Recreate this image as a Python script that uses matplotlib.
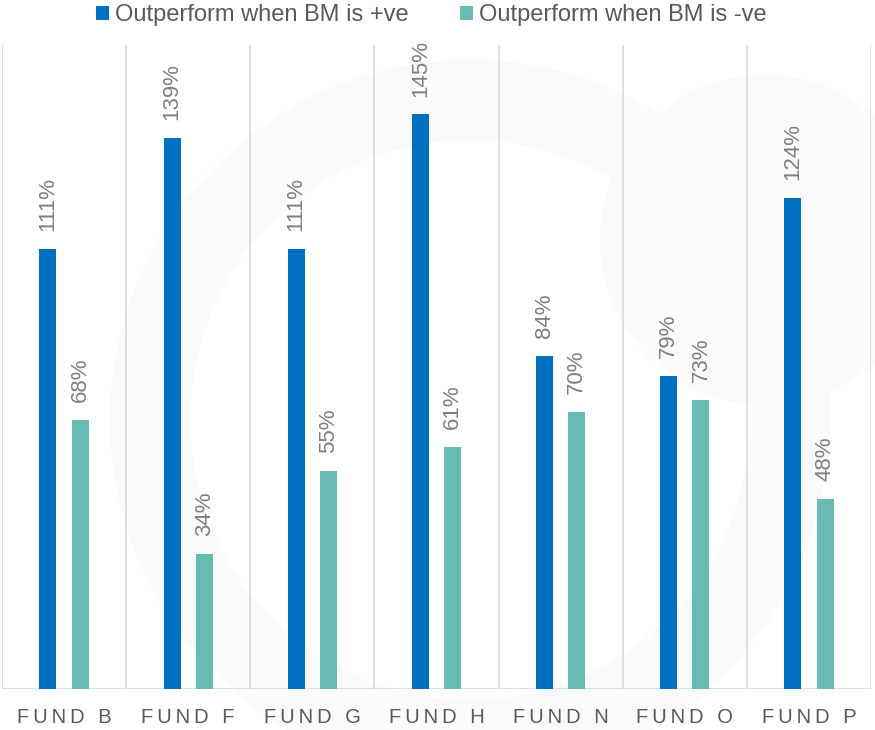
import numpy as np
import matplotlib.pyplot as plt
from matplotlib.patches import Wedge, Circle

# fund outperformance ratios, split by benchmark direction
funds = ["FUND B", "FUND F", "FUND G", "FUND H", "FUND N", "FUND O", "FUND P"]
bm_up = [111, 139, 111, 145, 84, 79, 124]
bm_down = [68, 34, 55, 61, 70, 73, 48]
series_names = ["Outperform when BM is +ve", "Outperform when BM is -ve"]

blue = "#0070C0"
teal = "#68BBB0"
grid_col = "#D9D9D9"
label_col = "#7F7F7F"
text_col = "#595959"

plt.rcParams["font.family"] = ["Liberation Sans", "DejaVu Sans"]


def spaced(s):
    # widen the letter spacing of the category labels
    word, letter = s.split(" ")
    return "\u2009".join(word) + "\u2009 \u2009" + letter


W, H = 875, 730
fig = plt.figure(figsize=(W / 100, H / 100), dpi=100)

# faint background watermark shapes
bg = fig.add_axes([0, 0, 1, 1], zorder=0)
bg.set_xlim(0, W)
bg.set_ylim(H, 0)
bg.axis("off")
bg.add_patch(Wedge((470, 420), 360, 0, 360, width=80, color="#F9FAFA", lw=0))
bg.add_patch(Circle((765, 240), 165, color="#F9FAFA", lw=0))

ax = fig.add_axes([2 / W, (H - 689) / H, 869 / W, (689 - 45) / H], zorder=1)
ax.patch.set_alpha(0)

x = np.arange(len(funds))
w = 0.137
off = 0.13
b1 = ax.bar(x - off, bm_up, w, color=blue, label=series_names[0], zorder=3)
b2 = ax.bar(x + off, bm_down, w, color=teal, label=series_names[1], zorder=3)

for bars, vals in [(b1, bm_up), (b2, bm_down)]:
    for r, v in zip(bars, vals):
        ax.text(r.get_x() + r.get_width() / 2, v + 4.5, f"{v}%", rotation=90,
                ha="center", va="bottom", fontsize=16, color=label_col)

ax.set_xlim(-0.5, len(funds) - 0.5)
ax.set_ylim(0, 162.5)

# category dividers
for b in np.arange(len(funds) + 1) - 0.5:
    ax.axvline(b, color=grid_col, lw=1.2, zorder=1)
ax.axhline(0, color=grid_col, lw=1.2, zorder=2)

for s in ax.spines.values():
    s.set_visible(False)
ax.set_yticks([])
ax.set_xticks(x)
ax.set_xticklabels([spaced(f) for f in funds], fontsize=14.5, color=text_col)
ax.tick_params(axis="x", length=0, pad=14)

fig.legend(handles=[b1, b2], labels=series_names, loc="upper center",
           bbox_to_anchor=(0.493, 1.012), ncol=2, frameon=False, fontsize=17,
           labelcolor=text_col, handlelength=0.55, handleheight=0.55,
           handletextpad=0.25, columnspacing=2.2, borderaxespad=0.15)

fig.savefig("out.png", dpi=100)
